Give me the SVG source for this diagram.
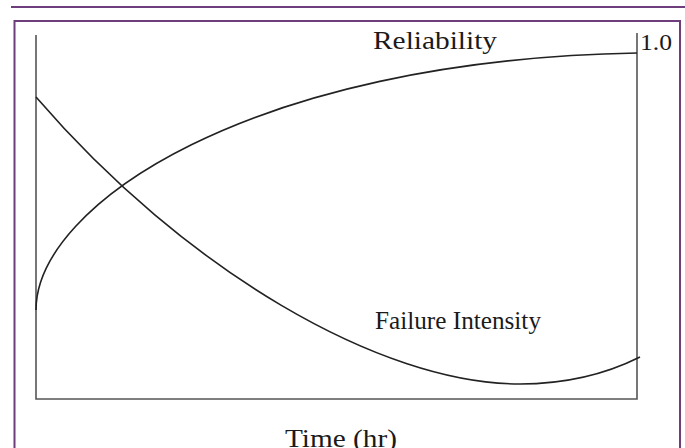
<svg xmlns="http://www.w3.org/2000/svg" width="685" height="448" viewBox="0 0 685 448">
<style>
.frame{fill:none;stroke:#6e3d7c;stroke-width:2}
.axis{fill:none;stroke:#555;stroke-width:1.6}
.curve{fill:none;stroke:#222;stroke-width:1.6}
.lbl{font-family:"Liberation Serif","Times New Roman",serif;fill:#1a1a1a}
</style>
<rect width="685" height="448" fill="#fff"/>
<line x1="11" y1="7" x2="685" y2="7" class="frame"/>
<rect x="14.5" y="21" width="665.5" height="440" class="frame"/>
<g id="axes">
<polyline class="axis" points="36,35 36,399 637,399 637,33"/>
</g>
<g id="connectors">
<path id="reliability-curve" class="curve" d="M36,310 C36,205 250,60 637,53"/>
<path id="failure-curve" class="curve" d="M36,97 C185,270 380,384 520,384 C570,384 610,372 640,357"/>
</g>
<g id="labels">
<text class="lbl" x="373" y="49" font-size="25" textLength="124" lengthAdjust="spacingAndGlyphs">Reliability</text>
<text class="lbl" x="640" y="50" font-size="23" textLength="32" lengthAdjust="spacingAndGlyphs">1.0</text>
<text class="lbl" x="375" y="329" font-size="25" textLength="166" lengthAdjust="spacingAndGlyphs">Failure Intensity</text>
<text class="lbl" x="285" y="447" font-size="25" textLength="112" lengthAdjust="spacingAndGlyphs">Time (hr)</text>
</g>
</svg>
